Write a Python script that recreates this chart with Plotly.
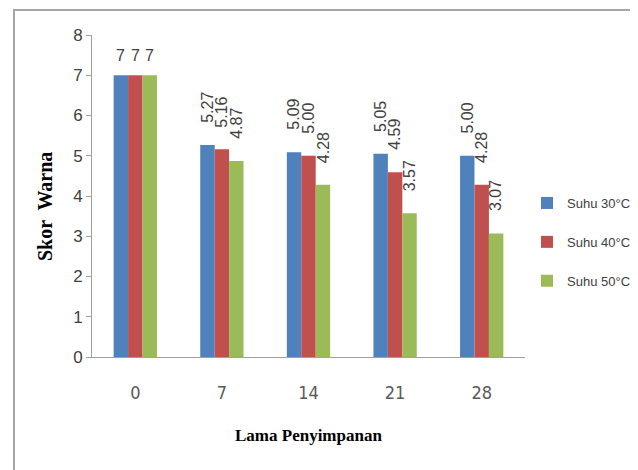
import plotly.graph_objects as go

categories = ["0", "7", "14", "21", "28"]
series_names = ["Suhu 30°C", "Suhu 40°C", "Suhu 50°C"]
suhu30 = [7.00, 5.27, 5.09, 5.05, 5.00]
suhu40 = [7.00, 5.16, 5.00, 4.59, 4.28]
suhu50 = [7.00, 4.87, 4.28, 3.57, 3.07]
labels30 = ["7", "5.27", "5.09", "5.05", "5.00"]
labels40 = ["7", "5.16", "5.00", "4.59", "4.28"]
labels50 = ["7", "4.87", "4.28", "3.57", "3.07"]
y_ticks = [0, 1, 2, 3, 4, 5, 6, 7, 8]

colors = ["#4F81BD", "#C0504D", "#9BBB59"]
values = [suhu30, suhu40, suhu50]
labels = [labels30, labels40, labels50]

# page body has an 8px margin, so the figure is drawn shifted by 8px
OFF = 8
W, H = 638 - OFF, 470 - OFF
L, R, T, B = 92 - OFF, 113, 35 - OFF, 113
plot_w = W - L - R
plot_h = H - T - B


def px_x(xr):
    return (xr - OFF - L) / plot_w


def px_y(yr):
    return (H - B - (yr - OFF)) / plot_h


fig = go.Figure()
for i, (name, vals, col) in enumerate(zip(series_names, values, colors)):
    fig.add_trace(go.Bar(
        x=categories, y=vals, name=name, marker=dict(color=col, line=dict(width=0)),
        legendgroup=name,
    ))

bargap = 0.5
nser = len(series_names)
bw = (1 - bargap) / nser
annotations = []
for s in range(nser):
    off = -(1 - bargap) / 2 + bw * (s + 0.5)
    for c, cat in enumerate(categories):
        rot = 0 if c == 0 else -90
        annotations.append(dict(
            x=c + off, y=values[s][c], xref="x", yref="y",
            text=labels[s][c], showarrow=False, textangle=rot,
            xanchor="center", yanchor="bottom", yshift=(9 if c == 0 else 20),
            font=dict(family="Liberation Sans, Arial, sans-serif", size=16, color="#404040"),
        ))

annotations.append(dict(
    x=px_x(45), y=px_y(207), xref="paper", yref="paper",
    text="<b>Skor  Warna</b>", showarrow=False, textangle=-90,
    xanchor="center", yanchor="middle",
    font=dict(family="Liberation Serif, Times New Roman, serif", size=20, color="#000000"),
))
annotations.append(dict(
    x=0.5, y=px_y(435), xref="paper", yref="paper",
    text="<b>Lama Penyimpanan</b>", showarrow=False,
    xanchor="center", yanchor="middle",
    font=dict(family="Liberation Serif, Times New Roman, serif", size=17, color="#000000"),
))

# outer chart border (cropped box: top and left edges visible)
shapes = [dict(
    type="rect", xref="paper", yref="paper",
    x0=px_x(14), x1=px_x(660),
    y0=px_y(500), y1=px_y(10),
    line=dict(color="#A6A6A6", width=2), fillcolor="rgba(0,0,0,0)", layer="below",
)]

fig.update_layout(
    width=W, height=H,
    margin=dict(l=L, r=R, t=T, b=B, autoexpand=False),
    paper_bgcolor="white", plot_bgcolor="white",
    barmode="group", bargap=bargap, bargroupgap=0,
    showlegend=True,
    legend=dict(
        x=px_x(527), y=px_y(188), xanchor="left", yanchor="top",
        traceorder="grouped", tracegroupgap=19, itemwidth=30,
        font=dict(family="Liberation Sans, Arial, sans-serif", size=13, color="#404040"),
        bgcolor="rgba(0,0,0,0)",
    ),
    xaxis=dict(
        type="category", categoryorder="array", categoryarray=categories,
        showline=True, linecolor="#A0A0A0", linewidth=1,
        ticks="outside", ticklen=19, tickcolor="rgba(0,0,0,0)",
        tickfont=dict(family="DejaVu Sans Condensed, Liberation Sans, sans-serif", size=18, color="#595959"),
        showgrid=False, zeroline=False, range=[-0.5, len(categories) - 0.5],
    ),
    yaxis=dict(
        range=[0, 8], tickvals=y_ticks, ticktext=[str(v) for v in y_ticks],
        showline=True, linecolor="#A0A0A0", linewidth=1,
        ticks="outside", ticklen=5, tickcolor="#A0A0A0",
        tickfont=dict(family="Liberation Sans, Arial, sans-serif", size=17, color="#404040"),
        showgrid=False, zeroline=False,
    ),
    annotations=annotations,
    shapes=shapes,
)

fig.write_html("out.html")
